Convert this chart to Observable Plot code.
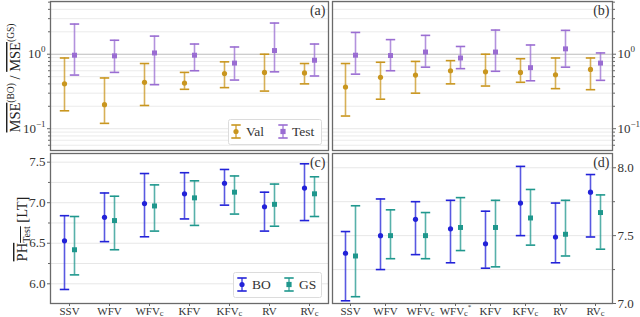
<!DOCTYPE html>
<html>
<head>
<meta charset="utf-8">
<script src="https://cdn.jsdelivr.net/npm/d3@7"></script>
<script src="https://cdn.jsdelivr.net/npm/@observablehq/plot@0.6"></script>
<style>
  html, body { margin: 0; padding: 0; background: #fff; }
  #wrap { position: relative; width: 640px; height: 317px; font-family: "Liberation Serif", serif; }
  #wrap > svg { position: absolute; left: 0; top: 0; }
</style>
</head>
<body>
<div id="wrap"></div>
<script>
// ---------- data ----------
const catsLeft  = ["SSV", "WFV", "WFVc", "KFV", "KFVc", "RV", "RVc"];
const catsRight = ["SSV", "WFV", "WFVc", "WFVc*", "KFV", "KFVc", "RV", "RVc"];

// (a) MSE ratio, left
const valA_mid  = [0.40, 0.21, 0.42, 0.41, 0.55, 0.57, 0.56];
const valA_lo   = [0.174, 0.118, 0.205, 0.338, 0.356, 0.32, 0.40];
const valA_hi   = [0.89, 0.48, 0.75, 0.57, 0.79, 1.0, 0.75];
const testA_mid = [0.97, 0.95, 1.04, 0.97, 0.76, 1.12, 0.83];
const testA_lo  = [0.525, 0.57, 0.39, 0.60, 0.45, 0.58, 0.51];
const testA_hi  = [2.54, 1.54, 1.75, 1.37, 1.25, 2.62, 1.37];

// (b) MSE ratio, right
const valB_mid  = [0.363, 0.49, 0.525, 0.60, 0.58, 0.57, 0.53, 0.625];
const valB_lo   = [0.148, 0.249, 0.30, 0.40, 0.374, 0.42, 0.345, 0.334];
const valB_hi   = [0.75, 0.78, 0.80, 0.82, 1.0, 0.87, 0.89, 0.89];
const testB_mid = [0.97, 0.96, 1.07, 0.89, 1.07, 0.66, 1.18, 0.76];
const testB_lo  = [0.54, 0.60, 0.67, 0.64, 0.59, 0.44, 0.67, 0.446];
const testB_hi  = [1.96, 1.57, 1.79, 1.27, 2.11, 1.33, 2.09, 1.04];

// (c) PH_Test, left
const boC_mid = [6.53, 6.82, 6.99, 7.11, 7.24, 6.95, 7.18];
const boC_lo  = [5.93, 6.52, 6.58, 6.80, 6.97, 6.65, 6.78];
const boC_hi  = [6.84, 7.12, 7.36, 7.37, 7.41, 7.13, 7.48];
const gsC_mid = [6.42, 6.78, 6.96, 7.06, 7.13, 6.98, 7.11];
const gsC_lo  = [6.11, 6.42, 6.65, 6.72, 6.86, 6.71, 6.83];
const gsC_hi  = [6.83, 7.08, 7.22, 7.27, 7.33, 7.23, 7.32];

// (d) PH_Test, right
const boD_mid = [7.37, 7.50, 7.62, 7.55, 7.44, 7.74, 7.49, 7.82];
const boD_lo  = [7.02, 7.25, 7.36, 7.30, 7.26, 7.50, 7.30, 7.49];
const boD_hi  = [7.53, 7.77, 7.75, 7.76, 7.68, 8.01, 7.74, 7.95];
const gsD_mid = [7.35, 7.50, 7.50, 7.56, 7.56, 7.63, 7.51, 7.67];
const gsD_lo  = [7.05, 7.33, 7.33, 7.39, 7.27, 7.43, 7.35, 7.40];
const gsD_hi  = [7.72, 7.69, 7.67, 7.78, 7.76, 7.84, 7.76, 7.80];

const logMajor = [0.1, 1];
const logLabels = ["10^−1", "10^0"];
const logMinor = [0.06, 0.07, 0.08, 0.09, 0.2, 0.3, 0.4, 0.5, 0.6, 0.7, 0.8, 0.9, 2, 3, 4, 5];
const phLeftMajor = [6.0, 6.5, 7.0, 7.5];
const phLeftMinor = [6.25, 6.75, 7.25];
const phRightMajor = [7.0, 7.5, 8.0];
const phRightMinor = [7.25, 7.75];

// ---------- style ----------
const C = { val: "#c9961f", test: "#9a6dd2", bo: "#2222d8", gs: "#1f978d" };
const FONT = "Liberation Serif, serif";

const rows = (cats, mid, lo, hi) => cats.map((c, i) => ({ cat: c, mid: mid[i], lo: lo[i], hi: hi[i] }));

const cap = { draw(ctx, size) { const w = Math.sqrt(size / Math.PI); ctx.moveTo(-w, 0); ctx.lineTo(w, 0); } };

function errorbars(data, color, dx, sym) {
  return [
    Plot.ruleX(data, { x: "cat", y1: "lo", y2: "hi", dx, stroke: color, strokeWidth: 1.6, strokeOpacity: 0.75 }),
    Plot.dot(data, { x: "cat", y: "lo", dx, symbol: cap, r: 4.7, stroke: color, strokeWidth: 1.6, fill: "none" }),
    Plot.dot(data, { x: "cat", y: "hi", dx, symbol: cap, r: 4.7, stroke: color, strokeWidth: 1.6, fill: "none" }),
    Plot.dot(data, { x: "cat", y: "mid", dx, symbol: sym, r: sym === "square" ? 2.8 : 2.6, fill: color, stroke: "none" })
  ];
}

function panel({ cats, pad, s1, s2, yScale, major, minor, fmt, gridMajor, gridMinor, unitLine, anchor, xAxis, label, left, right, top, bottom }) {
  const marks = [];
  if (gridMinor) marks.push(Plot.gridY(gridMinor, { stroke: "#e9e9e9", strokeOpacity: 1, strokeWidth: 0.9 }));
  marks.push(Plot.gridY(gridMajor, { stroke: "#e4e4e4", strokeOpacity: 1, strokeWidth: 0.9 }));
  if (unitLine) marks.push(Plot.ruleY(unitLine, { stroke: "#bdbdbd", strokeWidth: 1.1 }));
  marks.push(Plot.axisY(minor, { anchor, tickSize: 2, text: null, label: null, stroke: "#666" }));
  marks.push(Plot.axisY(major, { anchor, tickSize: 3, tickPadding: 2, tickFormat: fmt, label: null, fontSize: 13, fill: "#333", stroke: "#666" }));
  if (xAxis) marks.push(Plot.axisX({ anchor: "bottom", tickSize: 3, tickPadding: 0.5, label: null, fontSize: 11, fill: "#333", stroke: "#666" }));
  marks.push(...errorbars(s1.data, s1.color, -5, "circle"));
  marks.push(...errorbars(s2.data, s2.color, 5, "square"));
  marks.push(Plot.text([label], { text: d => d, frameAnchor: "top-right", dx: -3, dy: 4, fontSize: 14, fill: "#333" }));
  marks.push(Plot.frame({ stroke: "#6a6a6a", strokeWidth: 1.3 }));
  return Plot.plot({
    width: 640, height: 317,
    marginLeft: left, marginRight: 640 - right, marginTop: top, marginBottom: 317 - bottom,
    style: { background: "transparent", overflow: "visible", fontFamily: FONT },
    x: { type: "point", domain: cats, padding: pad, axis: null, label: null },
    y: { ...yScale, axis: null, label: null },
    marks
  });
}

const fmtLog = d => logLabels[logMajor.indexOf(d)];
const fmt1 = d => d.toFixed(1);

const panels = [
  panel({ cats: catsLeft, pad: 0.43,
    s1: { data: rows(catsLeft, valA_mid, valA_lo, valA_hi), color: C.val },
    s2: { data: rows(catsLeft, testA_mid, testA_lo, testA_hi), color: C.test },
    yScale: { type: "log", domain: [0.051, 5.1] }, major: logMajor, minor: logMinor, fmt: fmtLog,
    gridMajor: [0.1], gridMinor: logMinor, unitLine: [1], anchor: "left", xAxis: false, label: "(a)",
    left: 50, right: 328, top: 1, bottom: 150 }),
  panel({ cats: catsRight, pad: 0.5,
    s1: { data: rows(catsRight, valB_mid, valB_lo, valB_hi), color: C.val },
    s2: { data: rows(catsRight, testB_mid, testB_lo, testB_hi), color: C.test },
    yScale: { type: "log", domain: [0.051, 5.1] }, major: logMajor, minor: logMinor, fmt: fmtLog,
    gridMajor: [0.1], gridMinor: logMinor, unitLine: [1], anchor: "right", xAxis: false, label: "(b)",
    left: 332, right: 612, top: 1, bottom: 150 }),
  panel({ cats: catsLeft, pad: 0.43,
    s1: { data: rows(catsLeft, boC_mid, boC_lo, boC_hi), color: C.bo },
    s2: { data: rows(catsLeft, gsC_mid, gsC_lo, gsC_hi), color: C.gs },
    yScale: { domain: [5.757, 7.607] }, major: phLeftMajor, minor: phLeftMinor, fmt: fmt1,
    gridMajor: phLeftMajor.concat(phLeftMinor), gridMinor: null, unitLine: null, anchor: "left", xAxis: true, label: "(c)",
    left: 50, right: 328, top: 153, bottom: 303 }),
  panel({ cats: catsRight, pad: 0.5,
    s1: { data: rows(catsRight, boD_mid, boD_lo, boD_hi), color: C.bo },
    s2: { data: rows(catsRight, gsD_mid, gsD_lo, gsD_hi), color: C.gs },
    yScale: { domain: [7.0, 8.105] }, major: phRightMajor, minor: phRightMinor, fmt: fmt1,
    gridMajor: phRightMajor.concat(phRightMinor), gridMinor: null, unitLine: null, anchor: "right", xAxis: true, label: "(d)",
    left: 332, right: 612, top: 153, bottom: 303 })
];

const wrap = document.getElementById("wrap");
const NS = "http://www.w3.org/2000/svg";
function tspan(txt, attrs) {
  const t = document.createElementNS(NS, "tspan");
  for (const k in attrs) t.setAttribute(k, attrs[k]);
  t.textContent = txt;
  return t;
}
function fixLabels(svg) {
  svg.querySelectorAll("text").forEach(t => {
    if (t.querySelector("tspan")) return;
    const s = t.textContent;
    let m;
    if ((m = s.match(/^(.*)\^(.*)$/))) {
      t.textContent = m[1];
      t.appendChild(tspan(m[2], { dy: "-6", "font-size": "9" }));
    } else if ((m = s.match(/^([A-Z]+)c(\*?)$/))) {
      t.textContent = m[1];
      t.appendChild(tspan("c", { dy: "1.5", "font-size": "8.5" }));
      if (m[2]) t.appendChild(tspan("*", { dy: "-7", "font-size": "7" }));
    }
  });
}
panels.forEach(p => { fixLabels(p); wrap.appendChild(p); });

// ---------- axis titles and legends ----------
function legendItem(x, y, color, sym) {
  const marker = sym === "square"
    ? `<rect x="${x - 2.6}" y="${y - 2.6}" width="5.2" height="5.2" fill="${color}"/>`
    : `<circle cx="${x}" cy="${y}" r="2.6" fill="${color}"/>`;
  return `<g stroke="${color}" stroke-width="1.6">
    <line x1="${x}" x2="${x}" y1="${y - 6.5}" y2="${y + 6.5}" stroke-opacity="0.75"/>
    <line x1="${x - 4.7}" x2="${x + 4.7}" y1="${y - 6.5}" y2="${y - 6.5}"/>
    <line x1="${x - 4.7}" x2="${x + 4.7}" y1="${y + 6.5}" y2="${y + 6.5}"/>
  </g>${marker}`;
}
const over = document.createElementNS(NS, "svg");
over.setAttribute("width", 640); over.setAttribute("height", 317);
over.setAttribute("font-family", FONT);
over.innerHTML = `
  <text transform="translate(20,78) rotate(-90)" text-anchor="middle" font-size="14.5" fill="#222">
    <tspan text-decoration="overline">MSE</tspan><tspan dy="-6" font-size="9.5">(BO)</tspan><tspan dy="6"> / </tspan><tspan text-decoration="overline">MSE</tspan><tspan dy="-6" font-size="9.5">(GS)</tspan>
  </text>
  <text transform="translate(27,229) rotate(-90)" text-anchor="middle" font-size="14.5" fill="#222">
    <tspan text-decoration="overline">PH</tspan><tspan dy="3" font-size="10" text-decoration="overline">Test</tspan><tspan dy="-3"> [LT]</tspan>
  </text>
  <rect x="228.5" y="119.5" width="93" height="25" rx="2" fill="#fff" fill-opacity="0.9" stroke="#dcdcdc"/>
  ${legendItem(236, 131.5, C.val, "circle")}
  <text x="246" y="136" font-size="13.5" fill="#333">Val</text>
  ${legendItem(283, 131.5, C.test, "square")}
  <text x="292" y="136" font-size="13.5" fill="#333">Test</text>
  <rect x="233.5" y="272.5" width="88" height="25" rx="2" fill="#fff" fill-opacity="0.9" stroke="#dcdcdc"/>
  ${legendItem(242, 284.5, C.bo, "circle")}
  <text x="252" y="289" font-size="13.5" fill="#333">BO</text>
  ${legendItem(289, 284.5, C.gs, "square")}
  <text x="299" y="289" font-size="13.5" fill="#333">GS</text>
`;
wrap.appendChild(over);
</script>
</body>
</html>
